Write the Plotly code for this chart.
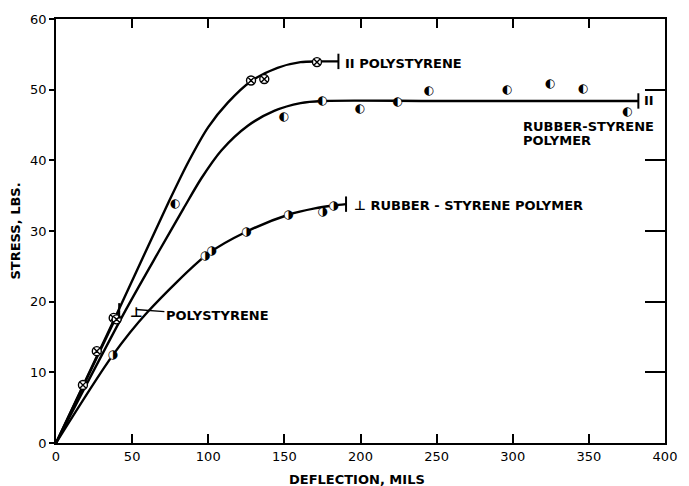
import plotly.graph_objects as go

FONT = "DejaVu Sans"

# ---- measured points -------------------------------------------------------
# parallel polystyrene (circle with cross)
ps_par_x = [17.7, 26.8, 37.9, 39.8, 128.1, 136.8, 171.4]
ps_par_y = [8.2, 13.0, 17.7, 17.5, 51.3, 51.5, 53.9]

# parallel rubber-styrene polymer (half-filled circles)
rs_par_x = [78.4, 149.8, 175.0, 199.6, 224.4, 245.0, 296.3, 324.7, 346.3, 375.3]
rs_par_y = [33.8, 46.2, 48.4, 47.3, 48.2, 49.8, 50.0, 50.8, 50.1, 46.9]

# perpendicular rubber-styrene polymer
rs_perp_x = [37.2, 97.8, 102.2, 124.9, 152.6, 175.1, 182.2]
rs_perp_y = [12.4, 26.4, 27.1, 29.9, 32.3, 32.7, 33.6]

# ---- faired curves ---------------------------------------------------------
ps_par_curve_x = [0, 40, 74, 87, 100, 113, 128.1, 145.5, 160.6, 172.5, 185.5]
ps_par_curve_y = [0, 18.3, 34.1, 39.8, 44.7, 48.2, 51.2, 53.1, 53.9, 54.0, 54.0]

ps_perp_curve_x = [0, 41.5]
ps_perp_curve_y = [0, 18.7]

rs_par_curve_x = [0, 45.5, 67.5, 83.8, 95.6, 108.6, 126, 143.3, 160.6, 174.7, 250, 382.5]
rs_par_curve_y = [0, 18.7, 27.1, 33.2, 37.5, 41.4, 44.9, 47.0, 48.1, 48.4, 48.4, 48.4]

rs_perp_curve_x = [0, 37.2, 60, 100, 125, 152.6, 170, 182.3, 190.5]
rs_perp_curve_y = [0, 12.4, 18.5, 26.8, 29.9, 32.3, 33.2, 33.6, 33.8]

# end-of-test marks
end_x = [185.5, 41.5, 382.5, 190.5]
end_y = [54.0, 18.7, 48.4, 33.8]

x_ticks = [0, 50, 100, 150, 200, 250, 300, 350, 400]
y_ticks = [0, 10, 20, 30, 40, 50, 60]

fig = go.Figure()


def add_curve(x, y):
    fig.add_trace(go.Scatter(
        x=x, y=y, mode="lines",
        line=dict(color="black", width=2.4, shape="spline", smoothing=0.8),
        hoverinfo="skip", showlegend=False))


for cx, cy in [(ps_par_curve_x, ps_par_curve_y),
               (ps_perp_curve_x, ps_perp_curve_y),
               (rs_par_curve_x, rs_par_curve_y),
               (rs_perp_curve_x, rs_perp_curve_y)]:
    add_curve(cx, cy)

fig.add_trace(go.Scatter(
    x=ps_par_x, y=ps_par_y, mode="markers", showlegend=False,
    marker=dict(symbol="circle-x", size=9, color="white",
                line=dict(color="black", width=1.4))))

# half-filled circles: white disc underneath, glyph on top
for px, py, glyph in [(rs_par_x, rs_par_y, "◐"), (rs_perp_x, rs_perp_y, "◑")]:
    fig.add_trace(go.Scatter(
        x=px, y=py, mode="markers", showlegend=False,
        marker=dict(symbol="circle", size=8, color="white",
                    line=dict(width=0))))
    fig.add_trace(go.Scatter(
        x=px, y=py, mode="text", text=[glyph] * len(px),
        textposition="middle center", showlegend=False,
        textfont=dict(family=FONT, size=12, color="black")))

# vertical bars closing each curve (drawn on the right-hand twin axis)
fig.add_trace(go.Scatter(
    x=end_x, y=end_y, mode="markers", showlegend=False, yaxis="y2",
    marker=dict(symbol="line-ns", size=11, color="black",
                line=dict(color="black", width=2))))

lab = dict(family=FONT, size=13, color="black", weight="bold")


def note(x, y, text, **kw):
    d = dict(x=x, y=y, xref="x", yref="y", text=text, showarrow=False,
             xanchor="left", yanchor="middle", font=lab)
    d.update(kw)
    fig.add_annotation(**d)


note(188.5, 53.7, "II POLYSTYRENE")
note(385.0, 48.4, "II")
note(305.5, 44.8, "RUBBER-STYRENE")
note(305.5, 42.8, "POLYMER")
note(194.5, 33.6, "⊥ RUBBER - STYRENE POLYMER")
note(47.0, 18.6, "⊥", font=dict(family=FONT, size=14, color="black",
                                weight="bold"))
fig.add_annotation(x=52.4, y=18.9, xref="x", yref="y", text="POLYSTYRENE",
                   showarrow=True, arrowhead=0, arrowwidth=1.4,
                   arrowcolor="black", axref="x", ayref="y",
                   ax=106.0, ay=18.0, standoff=0, font=lab)

# axis titles
fig.add_annotation(x=0.495, y=-0.086, xref="paper", yref="paper",
                   text="DEFLECTION, MILS", showarrow=False,
                   xanchor="center", yanchor="middle", font=lab)
fig.add_annotation(x=-0.068, y=0.5, xref="paper", yref="paper",
                   text="STRESS, LBS.", showarrow=False, textangle=-90,
                   xanchor="center", yanchor="middle", font=lab)

tick_font = dict(family=FONT, size=13, color="black")

fig.update_layout(
    width=689, height=486,
    margin=dict(l=56, r=17, t=16, b=43),
    paper_bgcolor="white", plot_bgcolor="white",
    xaxis=dict(range=[0, 400], tickvals=x_ticks, ticks="inside", ticklen=9,
               tickwidth=1.5, tickcolor="black", showline=True,
               linecolor="black", linewidth=1.8, mirror="ticks",
               showgrid=False, zeroline=False, tickfont=tick_font),
    yaxis=dict(range=[0, 60], tickvals=y_ticks, ticks="outside", ticklen=5,
               tickwidth=1.5, tickcolor="black", showline=True,
               linecolor="black", linewidth=1.8, mirror=True,
               showgrid=False, zeroline=False, tickfont=tick_font),
    yaxis2=dict(range=[0, 60], tickvals=y_ticks, overlaying="y", side="right",
                ticks="inside", ticklen=20, tickwidth=1.5, tickcolor="black",
                showticklabels=False, showgrid=False, showline=False,
                zeroline=False),
)

fig.write_html("out.html")
